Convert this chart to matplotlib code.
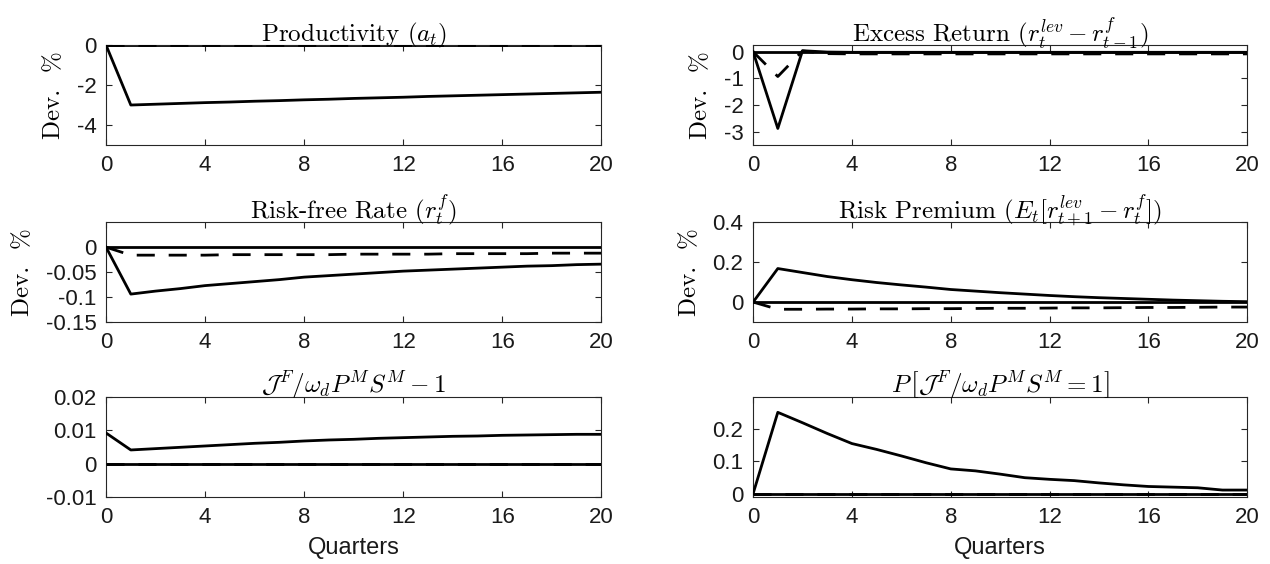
import numpy as np
import matplotlib
matplotlib.use("Agg")
import matplotlib.pyplot as plt

plt.rcParams['mathtext.fontset'] = 'cm'
plt.rcParams['font.family'] = ['Liberation Sans', 'DejaVu Sans']
plt.rcParams['axes.unicode_minus'] = False
plt.rcParams['axes.formatter.use_mathtext'] = False

# quarters after the shock
quarters = list(range(21))

# impulse responses (solid = baseline, dashed = alternative)
prod_base = [0, -3.00, -2.96, -2.92, -2.88, -2.85, -2.81, -2.78, -2.74, -2.71, -2.67,
             -2.64, -2.61, -2.57, -2.54, -2.51, -2.48, -2.45, -2.42, -2.39, -2.36]
prod_alt = [0] * 21

excess_base = [0, -2.88, 0.04, -0.01, -0.02, -0.02, -0.02, -0.02, -0.02, -0.02, -0.02,
               -0.02, -0.02, -0.02, -0.02, -0.02, -0.02, -0.02, -0.02, -0.02, -0.02]
excess_alt = [0, -0.93, 0.03, -0.07, -0.08, -0.08, -0.08, -0.08, -0.08, -0.08, -0.08,
              -0.08, -0.08, -0.08, -0.08, -0.08, -0.08, -0.08, -0.08, -0.08, -0.08]

rf_base = [0, -0.094, -0.088, -0.083, -0.077, -0.073, -0.069, -0.065, -0.060, -0.057, -0.054,
           -0.051, -0.048, -0.046, -0.044, -0.042, -0.040, -0.038, -0.037, -0.035, -0.034]
rf_alt = [0, -0.016, -0.016, -0.016, -0.016, -0.015, -0.015, -0.015, -0.015, -0.015, -0.014,
          -0.014, -0.014, -0.014, -0.013, -0.013, -0.013, -0.013, -0.012, -0.012, -0.012]

rp_base = [0, 0.168, 0.148, 0.128, 0.112, 0.098, 0.086, 0.075, 0.063, 0.055, 0.047,
           0.040, 0.033, 0.027, 0.022, 0.018, 0.014, 0.010, 0.007, 0.004, 0.002]
rp_alt = [0, -0.036, -0.036, -0.035, -0.035, -0.034, -0.034, -0.033, -0.033, -0.032, -0.031,
          -0.031, -0.030, -0.029, -0.029, -0.028, -0.027, -0.027, -0.026, -0.025, -0.025]

jratio_base = [0.0092, 0.0041, 0.0045, 0.0049, 0.0053, 0.0057, 0.0061, 0.0064, 0.0068, 0.0071, 0.0073,
               0.0076, 0.0078, 0.0080, 0.0082, 0.0083, 0.0085, 0.0086, 0.0087, 0.0088, 0.0088]
jratio_alt = [0] * 21

prob_base = [0, 0.250, 0.218, 0.185, 0.154, 0.136, 0.116, 0.095, 0.076, 0.070, 0.060,
             0.049, 0.044, 0.040, 0.033, 0.027, 0.022, 0.020, 0.018, 0.011, 0.011]
prob_alt = [0] * 21

titles = [r"Productivity $(a_t)$",
          r"Excess Return $(r_t^{lev} - r_{t-1}^f)$",
          r"Risk-free Rate $(r_t^f)$",
          r"Risk Premium $(E_t[r_{t+1}^{lev} - r_t^f])$",
          r"$\mathcal{J}^F/\omega_d P^M S^M - 1$",
          r"$P\,\left[\mathcal{J}^F/\omega_d P^M S^M = 1\right]$"]
series = [(prod_base, prod_alt), (excess_base, excess_alt), (rf_base, rf_alt),
          (rp_base, rp_alt), (jratio_base, jratio_alt), (prob_base, prob_alt)]
ylims = [(-5, 0), (-3.5, 0.25), (-0.15, 0.05), (-0.1, 0.4), (-0.01, 0.02), (-0.01, 0.297)]
yticks = [[-4, -2, 0], [-3, -2, -1, 0], [-0.15, -0.1, -0.05, 0], [0, 0.2, 0.4],
          [-0.01, 0, 0.01, 0.02], [0, 0.1, 0.2]]
ytlabels = [["-4", "-2", "0"], ["-3", "-2", "-1", "0"], ["-0.15", "-0.1", "-0.05", "0"],
            ["0", "0.2", "0.4"], ["-0.01", "0", "0.01", "0.02"], ["0", "0.1", "0.2"]]

fig = plt.figure(figsize=(12.7, 5.64), dpi=100)
lefts = [0.0835, 0.593]
widths = [0.390, 0.389]
bottoms = [0.743, 0.429, 0.119]
h = 0.177
grey = (0.15, 0.15, 0.15)

for i in range(6):
    r, c = divmod(i, 2)
    ax = fig.add_axes([lefts[c], bottoms[r], widths[c], h])
    base, alt = series[i]
    ax.axhline(0, color='k', lw=2.0, zorder=2)
    ax.plot(quarters, alt, color='k', lw=2.0, dashes=[6.5, 5.0], zorder=3)
    ax.plot(quarters, base, color='k', lw=2.0, zorder=4)
    ax.set_xlim(0, 20)
    ax.set_ylim(*ylims[i])
    ax.set_xticks([0, 4, 8, 12, 16, 20])
    ax.set_yticks(yticks[i])
    ax.set_yticklabels(ytlabels[i])
    ax.tick_params(direction='in', length=4, width=0.8, top=True, right=True,
                   labelsize=16, colors=grey, labelcolor=(0.1, 0.1, 0.1), pad=7)
    for sp in ax.spines.values():
        sp.set_color(grey)
        sp.set_linewidth(0.8)
    ax.set_title(titles[i], fontfamily='cmr10', fontsize=18, pad=3)
    if r < 2:
        ax.set_ylabel("Dev.  %", fontfamily='cmr10', fontsize=18, labelpad=8)
    else:
        ax.set_xlabel("Quarters", fontsize=17, color=(0.1, 0.1, 0.1), labelpad=7)

fig.savefig("out.png", dpi=100)
